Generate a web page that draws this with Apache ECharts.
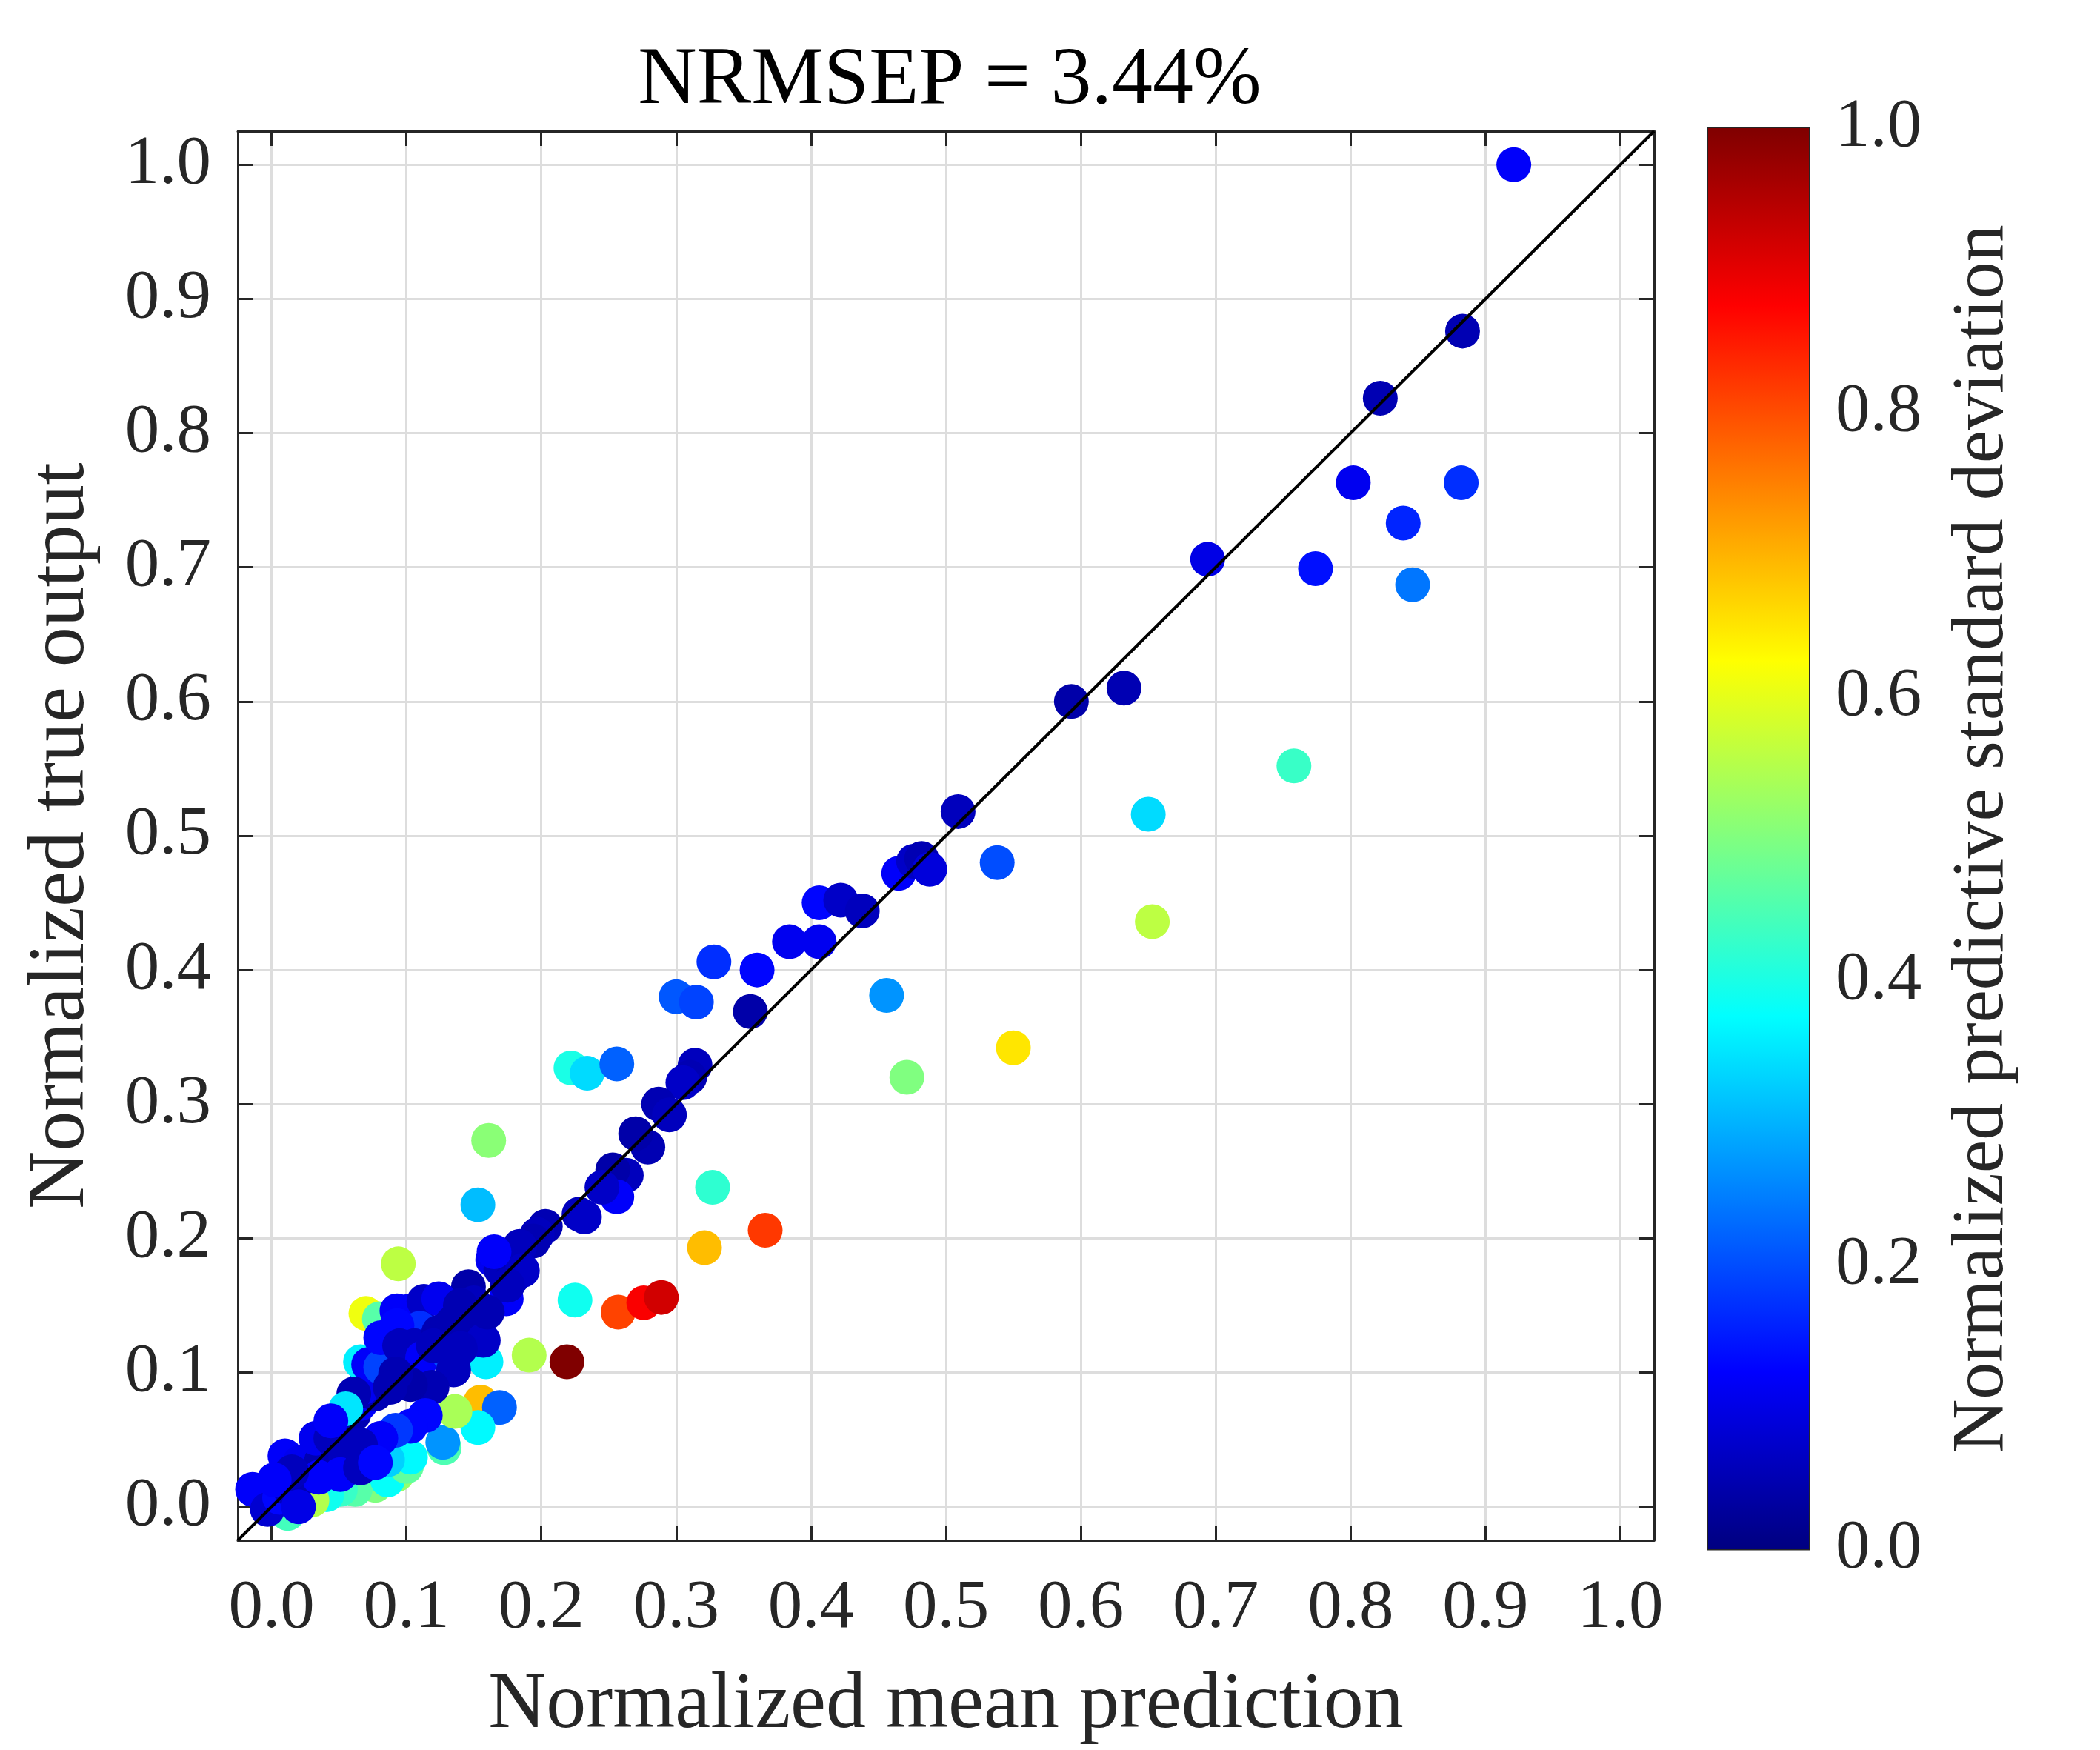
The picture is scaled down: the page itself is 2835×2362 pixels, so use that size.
<!DOCTYPE html>
<html>
<head>
<meta charset="utf-8">
<script src="https://cdn.jsdelivr.net/npm/echarts@6/dist/echarts.min.js"></script>
<style>
  html, body { margin: 0; padding: 0; background: #fff; }
  #chart { width: 2835px; height: 2362px; }
</style>
</head>
<body>
<div id="chart"></div>
<script>
// normalized mean prediction (x), normalized true output (y), normalized predictive std (colour)
const predX = [
  0.093, 0.077, 0.062, 0.051, 0.041, 0.012, 0.030, 0.086, 0.100,
  0.921, 0.883, 0.822, 0.802, 0.882, 0.839, 0.774, 0.846, 0.694, 0.593,
  0.632, 0.758, 0.650, 0.653, 0.509, 0.538, 0.550, 0.471, 0.456, 0.465,
  0.476, 0.482, 0.488, 0.406, 0.422, 0.438, 0.384, 0.406, 0.328, 0.360,
  0.300, 0.315, 0.355, 0.222, 0.234, 0.256, 0.161, 0.327, 0.153, 0.366,
  0.321, 0.094, 0.225, 0.257, 0.276, 0.289, 0.191, 0.219, 0.070, 0.080,
  0.159, 0.155, 0.169, 0.153, 0.128, 0.127, 0.103, 0.086, 0.136,
  0.314, 0.310, 0.305, 0.287, 0.295, 0.279, 0.270, 0.263, 0.253, 0.256,
  0.245, 0.228, 0.232, 0.203, 0.197, 0.194, 0.184, 0.164, 0.170, 0.179,
  0.186, 0.146, 0.174, 0.150, 0.150,
  -0.014, -0.003, 0.006, 0.014, 0.010, 0.021, 0.024, 0.037, 0.033, 0.044,
  0.051, 0.061, 0.066, 0.077, 0.068, 0.066, 0.072, 0.081, 0.081, 0.093,
  0.103, 0.113, 0.124, 0.110, 0.093, 0.095, 0.106, 0.112, 0.124, 0.134,
  0.148, 0.157, 0.165, 0.132, 0.135, 0.119, 0.103, 0.092, 0.088, 0.114,
  0.103, 0.092, 0.081, 0.066, 0.055, 0.051, 0.066, 0.077, 0.035, 0.015,
  0.002, 0.061, 0.055, 0.044, 0.020, 0.140, 0.120, 0.140, 0.175, 0.160
];
const trueY = [
  0.024, 0.016, 0.013, 0.013, 0.009, -0.005, 0.005, 0.020, 0.030,
  1.000, 0.876, 0.826, 0.763, 0.763, 0.733, 0.699, 0.687, 0.706, 0.600,
  0.610, 0.552, 0.516, 0.436, 0.518, 0.480, 0.342, 0.320, 0.381, 0.472,
  0.481, 0.483, 0.475, 0.450, 0.452, 0.444, 0.421, 0.421, 0.406, 0.400,
  0.380, 0.376, 0.369, 0.327, 0.323, 0.330, 0.273, 0.238, 0.225, 0.206,
  0.193, 0.181, 0.154, 0.145, 0.152, 0.156, 0.113, 0.108, 0.144, 0.140,
  0.108, 0.078, 0.074, 0.059, 0.044, 0.048, 0.037, 0.035, 0.071,
  0.329, 0.320, 0.316, 0.300, 0.292, 0.268, 0.278, 0.247, 0.251, 0.231,
  0.238, 0.218, 0.216, 0.209, 0.203, 0.198, 0.194, 0.184, 0.177, 0.171,
  0.176, 0.164, 0.155, 0.148, 0.152,
  0.013, -0.002, 0.007, 0.013, 0.038, 0.033, 0.022, 0.034, 0.051, 0.051,
  0.064, 0.069, 0.077, 0.084, 0.089, 0.108, 0.106, 0.104, 0.126, 0.146,
  0.146, 0.153, 0.155, 0.133, 0.135, 0.120, 0.120, 0.111, 0.130, 0.137,
  0.139, 0.124, 0.190, 0.113, 0.102, 0.089, 0.091, 0.099, 0.089, 0.068,
  0.060, 0.057, 0.051, 0.046, 0.038, 0.024, 0.029, 0.033, 0.022, 0.026,
  0.020, 0.084, 0.073, 0.064, 0.000, 0.150, 0.120, 0.118, 0.165, 0.145
];
const stdev = [
  0.52, 0.50, 0.46, 0.43, 0.39, 0.44, 0.55, 0.38, 0.47,
  0.12, 0.05, 0.05, 0.11, 0.17, 0.16, 0.14, 0.24, 0.10, 0.04,
  0.05, 0.43, 0.34, 0.56, 0.06, 0.20, 0.65, 0.50, 0.27, 0.12,
  0.07, 0.05, 0.09, 0.13, 0.07, 0.06, 0.11, 0.11, 0.17, 0.13,
  0.21, 0.19, 0.04, 0.40, 0.34, 0.22, 0.51, 0.42, 0.31, 0.82,
  0.69, 0.56, 0.39, 0.81, 0.88, 0.92, 0.55, 1.00, 0.61, 0.46,
  0.36, 0.69, 0.22, 0.37, 0.45, 0.27, 0.37, 0.33, 0.54,
  0.06, 0.05, 0.07, 0.05, 0.06, 0.05, 0.04, 0.06, 0.04, 0.12,
  0.07, 0.06, 0.07, 0.05, 0.06, 0.05, 0.06, 0.11, 0.06, 0.05,
  0.07, 0.04, 0.12, 0.19, 0.06,
  0.12, 0.08, 0.13, 0.06, 0.12, 0.11, 0.05, 0.05, 0.11, 0.06,
  0.05, 0.05, 0.12, 0.05, 0.11, 0.36, 0.12, 0.19, 0.13, 0.12,
  0.12, 0.07, 0.11, 0.17, 0.13, 0.06, 0.06, 0.12, 0.05, 0.05,
  0.05, 0.07, 0.12, 0.20, 0.06, 0.05, 0.04, 0.05, 0.05, 0.13,
  0.13, 0.18, 0.12, 0.06, 0.06, 0.12, 0.06, 0.13, 0.12, 0.06,
  0.12, 0.05, 0.35, 0.12, 0.10, 0.05, 0.06, 0.06, 0.06, 0.05
];
const tickLabels = ['0.0', '0.1', '0.2', '0.3', '0.4', '0.5', '0.6', '0.7', '0.8', '0.9', '1.0'];
const identityLine = [[-0.025, -0.025], [1.025, 1.025]];
// jet colormap, evenly spaced stops
const jet = ['#000080', '#0000ff', '#0080ff', '#00ffff', '#80ff80', '#ffff00', '#ff8000', '#ff0000', '#800000'];

const points = predX.map((x, i) => [x, trueY[i], stdev[i]]);

const FONT = "'Liberation Serif', 'DejaVu Serif', serif";
const INK = '#262626';

const tenth = v => {
  const k = Math.round(v * 10);
  return Math.abs(v * 10 - k) < 1e-6 && k >= 0 && k <= 10 ? tickLabels[k] : '';
};

const boxAxis = (extra) => Object.assign({
  type: 'value',
  min: -0.025,
  max: 1.025,
  splitNumber: 10,
  axisLine: { show: true, onZero: false, lineStyle: { color: INK, width: 3 } },
  axisTick: { show: true, inside: true, length: 20, lineStyle: { color: INK, width: 3 } },
  splitLine: { show: false },
  axisLabel: { show: false }
}, extra);

const gradient = new echarts.graphic.LinearGradient(0, 1, 0, 0,
  jet.map((c, i) => ({ offset: i / (jet.length - 1), color: c })));

const chart = echarts.init(document.getElementById('chart'), null, { renderer: 'canvas' });
chart.setOption({
  backgroundColor: '#ffffff',
  animation: false,
  title: {
    text: 'NRMSEP = 3.44%',
    left: 1277,
    top: 50,
    textAlign: 'center',
    textStyle: { fontFamily: FONT, fontSize: 110, fontWeight: 'normal', color: '#000' }
  },
  grid: [
    { left: 321, top: 177, width: 1912, height: 1911 },
    { left: 2306, top: 173, width: 136, height: 1918, show: true, borderColor: INK, borderWidth: 3, backgroundColor: 'transparent' }
  ],
  xAxis: [
    boxAxis({
      gridIndex: 0, position: 'bottom',
      name: 'Normalized mean prediction', nameLocation: 'middle', nameGap: 170,
      nameTextStyle: { fontFamily: FONT, fontSize: 108, color: INK },
      splitLine: { show: true, lineStyle: { color: '#dddddd', width: 3 } },
      axisLabel: { show: true, formatter: tenth, margin: 46, fontFamily: FONT, fontSize: 93, color: INK,
                   showMinLabel: false, showMaxLabel: false }
    }),
    boxAxis({ gridIndex: 0, position: 'top' }),
    { type: 'category', gridIndex: 1, data: ['cb'], show: false }
  ],
  yAxis: [
    boxAxis({
      gridIndex: 0, position: 'left',
      name: 'Normalized true output', nameLocation: 'middle', nameGap: 183, nameRotate: 90,
      nameTextStyle: { fontFamily: FONT, fontSize: 108, color: INK },
      splitLine: { show: true, lineStyle: { color: '#dddddd', width: 3 } },
      axisLabel: { show: true, formatter: tenth, margin: 36, fontFamily: FONT, fontSize: 93, color: INK,
                   showMinLabel: false, showMaxLabel: false }
    }),
    boxAxis({ gridIndex: 0, position: 'right' }),
    {
      type: 'value', gridIndex: 1, position: 'right', min: 0, max: 1, interval: 0.2,
      name: 'Normalized predictive standard deviation', nameLocation: 'middle', nameGap: 185, nameRotate: 90,
      nameTextStyle: { fontFamily: FONT, fontSize: 100, color: INK },
      axisLine: { show: false },
      axisTick: { show: false },
      splitLine: { show: false },
      axisLabel: { margin: 36, fontFamily: FONT, fontSize: 93, color: INK, formatter: v => v.toFixed(1) }
    }
  ],
  visualMap: {
    show: false,
    type: 'continuous',
    seriesIndex: 0,
    dimension: 2,
    min: 0,
    max: 1,
    inRange: { color: jet }
  },
  series: [
    {
      type: 'scatter',
      xAxisIndex: 0, yAxisIndex: 0,
      symbol: 'circle',
      symbolSize: 47,
      data: points,
      itemStyle: { opacity: 1 },
      z: 3
    },
    {
      type: 'line',
      xAxisIndex: 0, yAxisIndex: 0,
      data: identityLine,
      symbol: 'none',
      lineStyle: { color: '#000000', width: 4 },
      z: 5
    },
    {
      type: 'bar',
      xAxisIndex: 2, yAxisIndex: 2,
      data: [1],
      barWidth: '100%',
      itemStyle: { color: gradient },
      z: 1
    }
  ]
});
</script>
</body>
</html>
